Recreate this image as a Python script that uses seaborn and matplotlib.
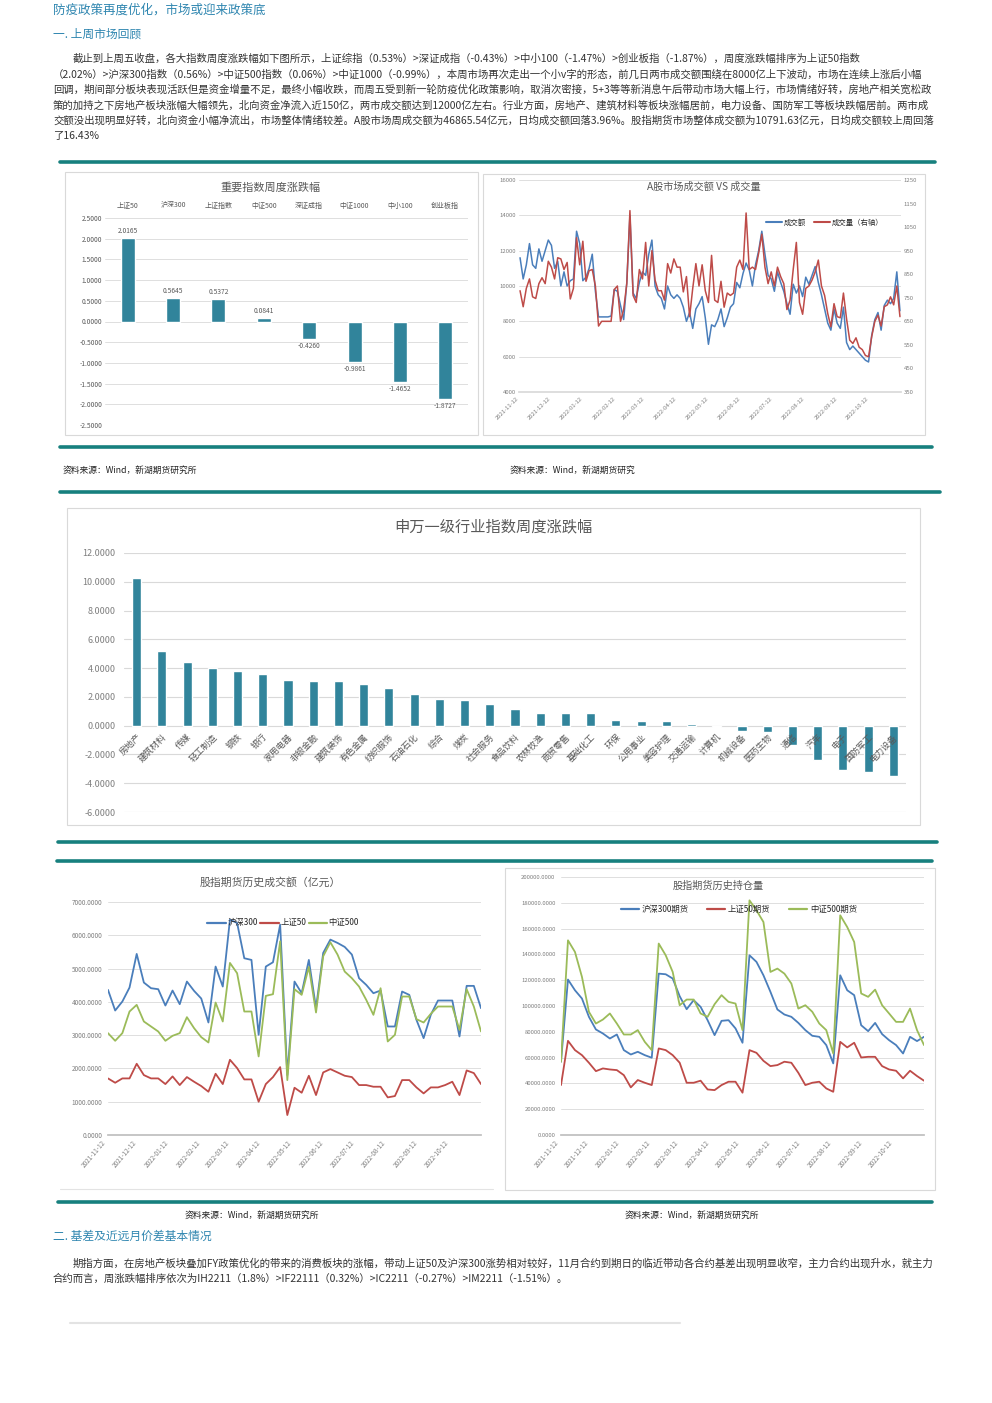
import matplotlib
matplotlib.use('Agg')
import matplotlib.pyplot as plt
import matplotlib.dates as mdates
from matplotlib.lines import Line2D
from matplotlib.patches import Rectangle
from matplotlib.ticker import FormatStrFormatter, MultipleLocator
import pandas as pd
import seaborn as sns

W, H = 992, 1403
TEAL = '#17807e'
BAR = '#31849b'
BLUE = '#4a7ebb'
RED = '#be4b48'
GREEN = '#9bbb59'
HEAD = '#2f86b0'
GRID = '#d9d9d9'
TICK = '#595959'

# ---- data ----
idx_names = ['上证50', '沪深300', '上证指数', '中证500', '深证成指', '中证1000', '中小100', '创业板指']
idx_chg = [2.0165, 0.5645, 0.5372, 0.0841, -0.4260, -0.9861, -1.4652, -1.8727]

# A股成交额(亿元) / 成交量(右轴), sampled every 3 days from 2021-11-12
amt_start = '2021-11-12'
amt_vals = [11600, 10400, 11200, 12400, 11200, 11000, 12100, 11400, 12000, 12600,
            12300, 11000, 11400, 10000, 10800, 10000, 10300, 10400, 13100, 12400,
            10300, 10500, 11000, 11800, 9700, 8250, 8250, 8250, 8250, 8300,
            9800, 9700, 8900, 8100, 10200, 14000, 9600, 9300, 10200, 10800,
            10600, 11800, 12600, 10000, 9500, 9300, 8700, 10000, 9500, 9300,
            9500, 9300, 8800, 8000, 8500, 7600, 8700, 9000, 9400, 8200,
            6700, 7800, 7700, 8100, 8700, 7700, 8200, 8800, 9000, 10200,
            9900, 10700, 11300, 10900, 10000, 11200, 12000, 13100, 11800, 10600,
            10400, 9700, 10800, 10200, 9700, 9000, 8400, 10100, 9600, 10000,
            9400, 10500, 10100, 10600, 11100, 10200, 9500, 8700, 7900, 7500,
            8700, 7900, 7600, 8800, 6800, 6400, 6600, 6400, 6200, 6000,
            5800, 5700, 7200, 8100, 8500, 7500, 8900, 9200, 9000, 9300,
            10800, 8600]
vol_vals = [780, 712, 790, 830, 754, 747, 810, 835, 810, 905,
            880, 830, 920, 915, 870, 900, 745, 790, 1005, 890,
            990, 820, 865, 870, 800, 630, 650, 650, 650, 650,
            785, 800, 650, 700, 810, 1120, 760, 730, 870, 830,
            985, 800, 950, 825, 780, 780, 740, 895, 855, 915,
            880, 880, 775, 840, 670, 790, 895, 800, 890, 780,
            730, 930, 740, 730, 820, 710, 770, 760, 770, 880,
            910, 870, 1110, 870, 880, 870, 940, 1020, 880, 810,
            860, 800, 880, 840, 810, 700, 740, 870, 985, 730,
            680, 790, 800, 825, 860, 910, 800, 760, 683, 627,
            725, 670, 665, 770, 660, 570, 556, 580, 540, 530,
            505, 500, 585, 650, 676, 630, 712, 720, 754, 720,
            800, 670]
vol_ticks = [350, 450, 550, 650, 750, 850, 950, 1050, 1150, 1250]

sw_names = ['房地产', '建筑材料', '传媒', '轻工制造', '钢铁', '银行', '家用电器', '非银金融',
            '建筑装饰', '有色金属', '纺织服饰', '石油石化', '综合', '煤炭', '社会服务', '食品饮料',
            '农林牧渔', '商贸零售', '基础化工', '环保', '公用事业', '美容护理', '交通运输', '计算机',
            '机械设备', '医药生物', '通信', '汽车', '电子', '国防军工', '电力设备']
sw_chg = [10.25, 5.20, 4.45, 3.98, 3.83, 3.62, 3.14, 3.07, 3.07, 2.93, 2.65, 2.23, 1.88, 1.75,
          1.54, 1.13, 0.85, 0.85, 0.85, 0.42, 0.35, 0.35, 0.14, -0.10, -0.40, -0.47, -1.34,
          -2.40, -3.10, -3.22, -3.50]

# 股指期货周度数据, weekly from 2021-11-12
fut_start = '2021-11-12'
turn_if = [4360, 3740, 4010, 4430, 5440, 4580, 4410, 4380, 3890, 4340, 3930, 4610, 4330, 4100,
           3380, 5060, 4460, 6470, 6370, 5310, 5260, 3010, 5060, 5190, 6320, 1800, 4610, 4260,
           5260, 3810, 5470, 5870, 5770, 5650, 5420, 4710, 4510, 4260, 4340, 3260, 3260, 4310,
           4210, 3460, 2910, 3610, 4040, 4040, 4040, 2960, 4480, 4480, 3810]
turn_ih = [1700, 1570, 1700, 1700, 2140, 1800, 1700, 1700, 1530, 1760, 1500, 1740, 1600, 1470,
           1300, 1840, 1530, 2260, 2010, 1670, 1670, 1000, 1530, 1740, 2040, 600, 1420, 1270,
           1780, 1200, 1880, 1980, 1880, 1780, 1740, 1500, 1500, 1450, 1450, 1130, 1170, 1650,
           1650, 1430, 1250, 1430, 1430, 1500, 1600, 1200, 1940, 1860, 1530]
turn_ic = [3060, 2830, 3060, 3710, 3910, 3410, 3260, 3110, 2830, 2980, 3060, 3540, 3210, 2940,
           2780, 3980, 3410, 5170, 4860, 3710, 3710, 2360, 4180, 4230, 5820, 1650, 4380, 4210,
           5050, 3680, 5370, 5790, 5420, 4910, 4710, 4460, 4060, 3610, 4410, 2810, 3010, 4160,
           4160, 3480, 3380, 3640, 3860, 3860, 3860, 3160, 4380, 3860, 3110]

oi_if = [56800, 120500, 112200, 105800, 91600, 81800, 78700, 74800, 77900, 65800, 62400, 64500,
         61900, 59900, 125100, 124600, 121300, 107600, 97500, 104500, 99300, 89000, 77400, 88500,
         89000, 82600, 71500, 139300, 134200, 123800, 111000, 97300, 93400, 91600, 86900, 81300,
         76900, 76100, 69700, 55500, 123800, 112200, 108400, 85100, 80500, 86900, 78200, 73500,
         69700, 63200, 76100, 72800, 76100]
oi_ih = [38700, 73000, 65800, 61900, 56000, 49500, 51600, 50800, 50300, 46400, 36900, 42600,
         40500, 38700, 67100, 65800, 61900, 56000, 40500, 40500, 42100, 35300, 34800, 38700,
         41300, 41300, 32800, 65800, 63700, 57500, 53400, 54200, 56800, 56000, 48200, 38700,
         40500, 41300, 36100, 33500, 72200, 67900, 71500, 60100, 60600, 60600, 53400, 50800,
         49800, 43900, 49800, 45700, 42100]
oi_ic = [56800, 150900, 141900, 122600, 95500, 86400, 89500, 94200, 86400, 77900, 77900, 81300,
         72200, 65800, 148400, 139300, 126400, 100600, 105000, 105000, 94200, 91600, 101400, 108400,
         103200, 101900, 81300, 181900, 174200, 165100, 126400, 129000, 125100, 117400, 98000, 100600,
         95500, 86400, 81300, 63200, 170300, 161200, 149600, 109700, 107100, 112700, 100600, 94200,
         87700, 87700, 98000, 81300, 69700]

para1 = [
    '截止到上周五收盘，各大指数周度涨跌幅如下图所示，上证综指（0.53%）>深证成指（-0.43%）>中小100（-1.47%）>创业板指（-1.87%），周度涨跌幅排序为上证50指数',
    '（2.02%）>沪深300指数（0.56%）>中证500指数（0.06%）>中证1000（-0.99%），本周市场再次走出一个小v字的形态，前几日两市成交额围绕在8000亿上下波动，市场在连续上涨后小幅',
    '回调，期间部分板块表现活跃但是资金增量不足，最终小幅收跌，而周五受到新一轮防疫优化政策影响，取消次密接，5+3等等新消息午后带动市场大幅上行，市场情绪好转，房地产相关宽松政',
    '策的加持之下房地产板块涨幅大幅领先，北向资金净流入近150亿，两市成交额达到12000亿左右。行业方面，房地产、建筑材料等板块涨幅居前，电力设备、国防军工等板块跌幅居前。两市成',
    '交额没出现明显好转，北向资金小幅净流出，市场整体情绪较差。A股市场周成交额为46865.54亿元，日均成交额回落3.96%。股指期货市场整体成交额为10791.63亿元，日均成交额较上周回落',
    '了16.43%',
]
para2 = [
    '期指方面，在房地产板块叠加FY政策优化的带来的消费板块的涨幅，带动上证50及沪深300涨势相对较好，11月合约到期日的临近带动各合约基差出现明显收窄，主力合约出现升水，就主力',
    '合约而言，周涨跌幅排序依次为IH2211（1.8%）>IF22111（0.32%）>IC2211（-0.27%）>IM2211（-1.51%）。',
]

# ---- setup ----
sns.set_theme(style='white')
plt.rcParams['font.family'] = ['Noto Sans CJK SC', 'DejaVu Sans']
plt.rcParams['axes.unicode_minus'] = False

fig = plt.figure(figsize=(W / 100, H / 100), dpi=100)


def rect(x0, y0, x1, y1):
    return [x0 / W, 1 - y1 / H, (x1 - x0) / W, (y1 - y0) / H]


def ftext(x, y, s, **kw):
    fig.text(x / W, 1 - y / H, s, **kw)


def hline(x0, x1, y, color=TEAL, lw=2.6):
    fig.add_artist(Line2D([x0 / W, x1 / W], [1 - y / H, 1 - y / H], color=color, lw=lw,
                          transform=fig.transFigure))


def frame(x0, y0, x1, y1):
    fig.add_artist(Rectangle((x0 / W, 1 - y1 / H), (x1 - x0) / W, (y1 - y0) / H, fill=False,
                             ec='#d9d9d9', lw=0.8, transform=fig.transFigure))


def clean(ax):
    for s in ax.spines.values():
        s.set_visible(False)
    ax.set_xlabel('')
    ax.set_ylabel('')
    ax.set_axisbelow(True)


# ---- page text ----
ftext(53, 10, '防疫政策再度优化，市场或迎来政策底', fontsize=9, color=HEAD, va='center', weight='medium')
ftext(53, 34, '一. 上周市场回顾', fontsize=8.5, color=HEAD, va='center')
for k, line in enumerate(para1):
    ftext(73 if k == 0 else 53, 59 + k * 15.4, line, fontsize=7.5, color='#333333', va='center')
ftext(53, 1236, '二. 基差及近远月价差基本情况', fontsize=8.5, color=HEAD, va='center')
for k, line in enumerate(para2):
    ftext(73 if k == 0 else 53, 1263 + k * 15.4, line, fontsize=7.5, color='#333333', va='center')

hline(60, 935, 162)
hline(60, 932, 447)
hline(60, 940, 492)
hline(58, 937, 842)
hline(57, 932, 861)
hline(58, 932, 1202)
hline(70, 680, 1323, color='#e3e3e3', lw=1.5)

ftext(63, 470, '资料来源：Wind，新湖期货研究所', fontsize=6.3, color='#222222', va='center')
ftext(510, 470, '资料来源：Wind，新湖期货研究', fontsize=6.3, color='#222222', va='center')
ftext(185, 1215, '资料来源：Wind，新湖期货研究所', fontsize=6.3, color='#222222', va='center')
ftext(625, 1215, '资料来源：Wind，新湖期货研究所', fontsize=6.3, color='#222222', va='center')

# ---- chart 1: 重要指数周度涨跌幅 ----
frame(65, 172, 478, 435)
ax1 = fig.add_axes(rect(105, 218, 468, 425))
sns.barplot(x=idx_names, y=idx_chg, color=BAR, width=0.31, saturation=1, ax=ax1)
ax1.set_ylim(-2.5, 2.5)
ax1.yaxis.set_major_locator(MultipleLocator(0.5))
ax1.yaxis.set_major_formatter(FormatStrFormatter('%.4f'))
ax1.xaxis.tick_top()
ax1.tick_params(axis='x', length=0, labelsize=5, colors=TICK, pad=6)
ax1.tick_params(axis='y', length=0, labelsize=4.8, colors=TICK, pad=2)
ax1.grid(axis='y', color=GRID, lw=0.6)
clean(ax1)
for i, v in enumerate(idx_chg):
    ax1.text(i, v + (0.07 if v >= 0 else -0.07), f'{v:.4f}', ha='center',
             va='bottom' if v >= 0 else 'top', fontsize=4.8, color=TICK)
ftext(271, 187, '重要指数周度涨跌幅', fontsize=8, color='#595959', ha='center', va='center')

# ---- chart 2: A股市场成交额 VS 成交量 ----
frame(483, 174, 925, 435)
amt_df = pd.DataFrame({'date': pd.date_range(amt_start, periods=len(amt_vals), freq='3D'),
                       'amt': amt_vals, 'vol': vol_vals})
ax2 = fig.add_axes(rect(519, 180, 901, 392))
sns.lineplot(data=amt_df, x='date', y='amt', color=BLUE, lw=1.1, ax=ax2)
ax2.set_ylim(4000, 16000)
ax2.set_xlim(pd.Timestamp('2021-11-11'), pd.Timestamp('2022-11-11'))
ax2.yaxis.set_major_locator(MultipleLocator(2000))
ax2.grid(axis='y', color=GRID, lw=0.6)
ax2r = ax2.twinx()
sns.lineplot(data=amt_df, x='date', y='vol', color=RED, lw=1.1, ax=ax2r)
ax2r.set_ylim(350, 1250)
ax2r.set_yticks(vol_ticks)
for a in (ax2, ax2r):
    clean(a)
    a.tick_params(axis='y', length=0, labelsize=4.3, colors='#7f7f7f', pad=2)
ax2.spines['bottom'].set_visible(True)
ax2.spines['bottom'].set_color(GRID)
ax2.xaxis.set_major_locator(mdates.MonthLocator(bymonthday=12))
ax2.xaxis.set_major_formatter(mdates.DateFormatter('%Y-%m-%d'))
ax2.tick_params(axis='x', labelsize=4.2, colors='#7f7f7f', length=2, color=GRID, pad=1)
for lab in ax2.get_xticklabels():
    lab.set_rotation(45)
    lab.set_ha('right')
ax2.legend(handles=[Line2D([], [], color=BLUE, lw=1.5), Line2D([], [], color=RED, lw=1.5)],
           labels=['成交额', '成交量（右轴）'], loc='center', bbox_to_anchor=(0.8, 0.8),
           ncol=2, frameon=False, fontsize=5.3, handlelength=2.2, columnspacing=1.0,
           handletextpad=0.3)
ftext(704, 187, 'A股市场成交额 VS 成交量', fontsize=7.3, color='#595959', ha='center', va='center')

# ---- chart 3: 申万一级行业指数周度涨跌幅 ----
frame(67, 508, 920, 825)
ax3 = fig.add_axes(rect(124, 553, 906, 812))
sns.barplot(x=sw_names, y=sw_chg, color=BAR, width=0.36, saturation=1, ax=ax3)
ax3.set_ylim(-6, 12)
ax3.set_xlim(-0.5, len(sw_names) - 0.5)
ax3.yaxis.set_major_locator(MultipleLocator(2))
ax3.yaxis.set_major_formatter(FormatStrFormatter('%.4f'))
ax3.tick_params(axis='y', length=0, labelsize=6.5, colors='#7f7f7f', pad=6)
ax3.set_xticks([])
ax3.grid(axis='y', color=GRID, lw=0.8)
clean(ax3)
for i, name in enumerate(sw_names):
    ax3.text(i, -0.45, name, rotation=45, rotation_mode='anchor', ha='right', va='top',
             fontsize=6.3, color=TICK)
ftext(493, 527, '申万一级行业指数周度涨跌幅', fontsize=11, color='#595959', ha='center', va='center')

# ---- chart 4: 股指期货历史成交额 ----
turn_df = pd.DataFrame({'date': pd.date_range(fut_start, periods=len(turn_if), freq='7D'),
                        'IF': turn_if, 'IH': turn_ih, 'IC': turn_ic})
ax4 = fig.add_axes(rect(108, 902, 481, 1135))
sns.lineplot(data=turn_df, x='date', y='IF', color=BLUE, lw=1.3, ax=ax4)
sns.lineplot(data=turn_df, x='date', y='IH', color=RED, lw=1.3, ax=ax4)
sns.lineplot(data=turn_df, x='date', y='IC', color=GREEN, lw=1.3, ax=ax4)
ax4.set_ylim(0, 7000)
ax4.set_xlim(turn_df['date'].iloc[0], turn_df['date'].iloc[-1])
ax4.yaxis.set_major_locator(MultipleLocator(1000))
ax4.yaxis.set_major_formatter(FormatStrFormatter('%.4f'))
ax4.grid(axis='y', color=GRID, lw=0.6)
clean(ax4)
ax4.spines['bottom'].set_visible(True)
ax4.spines['bottom'].set_color('#bfbfbf')
ax4.tick_params(axis='y', length=0, labelsize=4.6, colors='#7f7f7f', pad=4)
ax4.xaxis.set_major_locator(mdates.MonthLocator(bymonthday=12))
ax4.xaxis.set_major_formatter(mdates.DateFormatter('%Y-%m-%d'))
ax4.tick_params(axis='x', labelsize=4.6, colors='#7f7f7f', length=2, color='#bfbfbf', pad=1)
for lab in ax4.get_xticklabels():
    lab.set_rotation(50)
    lab.set_ha('right')
ax4.legend(handles=[Line2D([], [], color=c, lw=1.6) for c in (BLUE, RED, GREEN)],
           labels=['沪深300', '上证50', '中证500'], loc='center', bbox_to_anchor=(0.47, 0.91),
           ncol=3, frameon=False, fontsize=6, handlelength=2.2, columnspacing=0.3,
           handletextpad=0.2)
ftext(270, 882, '股指期货历史成交额（亿元）', fontsize=7.8, color='#595959', ha='center', va='center')
fig.add_artist(Line2D([60 / W, 493 / W], [1 - 1189 / H] * 2, color='#e3e3e3', lw=0.8,
                      transform=fig.transFigure))

# ---- chart 5: 股指期货历史持仓量 ----
frame(505, 868, 935, 1190)
oi_df = pd.DataFrame({'date': pd.date_range(fut_start, periods=len(oi_if), freq='7D'),
                      'IF': oi_if, 'IH': oi_ih, 'IC': oi_ic})
ax5 = fig.add_axes(rect(561, 877, 924, 1135))
sns.lineplot(data=oi_df, x='date', y='IF', color=BLUE, lw=1.3, ax=ax5)
sns.lineplot(data=oi_df, x='date', y='IH', color=RED, lw=1.3, ax=ax5)
sns.lineplot(data=oi_df, x='date', y='IC', color=GREEN, lw=1.3, ax=ax5)
ax5.set_ylim(0, 200000)
ax5.set_xlim(oi_df['date'].iloc[0], oi_df['date'].iloc[-1])
ax5.yaxis.set_major_locator(MultipleLocator(20000))
ax5.yaxis.set_major_formatter(FormatStrFormatter('%.4f'))
ax5.grid(axis='y', color=GRID, lw=0.6)
clean(ax5)
ax5.spines['bottom'].set_visible(True)
ax5.spines['bottom'].set_color('#bfbfbf')
ax5.tick_params(axis='y', length=0, labelsize=4.3, colors='#7f7f7f', pad=4)
ax5.xaxis.set_major_locator(mdates.MonthLocator(bymonthday=12))
ax5.xaxis.set_major_formatter(mdates.DateFormatter('%Y-%m-%d'))
ax5.tick_params(axis='x', labelsize=4.6, colors='#7f7f7f', length=2, color='#bfbfbf', pad=1)
for lab in ax5.get_xticklabels():
    lab.set_rotation(50)
    lab.set_ha('right')
ax5.legend(handles=[Line2D([], [], color=c, lw=1.6) for c in (BLUE, RED, GREEN)],
           labels=['沪深300期货', '上证50期货', '中证500期货'], loc='center',
           bbox_to_anchor=(0.49, 0.875), ncol=3, frameon=False, fontsize=6,
           handlelength=2.2, columnspacing=2.2, handletextpad=0.3)
ftext(718, 886, '股指期货历史持仓量', fontsize=7.3, color='#595959', ha='center', va='center')

fig.savefig('out.png', dpi=100, facecolor='white')
